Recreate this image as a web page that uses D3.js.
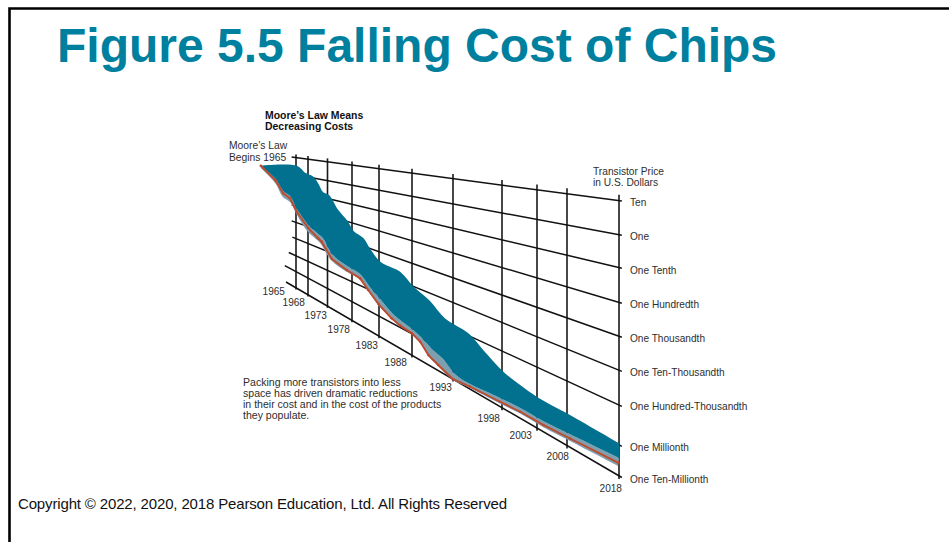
<!DOCTYPE html>
<html><head><meta charset="utf-8"><style>html,body{margin:0;background:#fff}svg{display:block}text{font-family:"Liberation Sans",Arial,sans-serif}</style></head>
<body><svg id="c" width="949" height="542"></svg>
<script src="https://d3js.org/d3.v7.min.js"></script>
<script>
const tickYears=[1965,1968,1973,1978,1983,1988,1993,1998,2003,2008,2018];
const tickLabels=tickYears.map(String);
const priceLabels=["Ten","One","One Tenth","One Hundredth","One Thousandth","One Ten-Thousandth","One Hundred-Thousandth","One Millionth","One Ten-Millionth"];
const priceIndex=[0,1,2,3,4,5,6,7,8];
const lineStartYear=[1963.9,1963.9,1963.9,1963.9,1963.9,1964.1,1963.2,1962.2,1962.5];

// Cost band: decades below "Ten" against year
const upperYears=[1956.0,1965.2,1967.3,1969.4,1970.6,1971.9,1973.3,1975.2,1977.2,1978.3,1980.1,1981.3,1983.2,1986.2,1988.2,1990.2,1992.0,1994.6,1996.1,1998.2,2000.6,2003.0,2007.9,2018.1];
const upperPrice=[0.85,0.47,0.79,0.93,1.25,1.71,1.79,2.51,3.00,3.39,3.59,3.99,4.46,4.58,5.01,5.32,5.75,5.92,6.26,6.64,6.79,6.88,6.90,6.96];
const lowerYears=[1956.2,1959.8,1961.8,1963.5,1965.2,1968.1,1970.6,1971.8,1974.1,1977.0,1979.5,1981.3,1983.2,1985.0,1986.2,1988.0,1989.3,1990.4,1991.7,1993.3,1994.7,1997.8,2000.6,2004.0,2008.6,2018.0];
const lowerPrice=[0.84,1.51,2.21,2.44,3.16,3.90,4.21,4.34,5.07,5.33,5.45,5.86,6.20,6.56,6.68,6.80,6.97,7.20,7.35,7.75,7.79,7.66,7.61,7.61,7.54,7.42];
const trendYears=[1956.2,1959.8,1961.8,1963.5,1965.2,1968.1,1970.6,1971.5,1973.9,1976.9,1979.5,1981.0,1982.9,1984.9,1986.2,1988.0,1989.0,1990.0,1991.2,1993.0,1994.7,1997.8,2000.6,2004.1,2008.6,2017.9];
const trendPrice=[0.84,1.61,2.37,2.59,3.33,4.09,4.46,4.58,5.30,5.54,5.66,6.04,6.46,6.80,6.92,6.98,7.16,7.56,7.75,8.00,7.90,7.81,7.75,7.75,7.69,7.59];
const shadeYears=[1956.2,1959.8,1961.7,1963.5,1965.0,1967.8,1970.6,1971.3,1973.7,1976.8,1979.5,1981.0,1982.8,1985.0,1986.2,1988.0,1989.0,1990.0,1991.2,1993.0,1994.7,1997.8,2000.6,2004.0,2008.6,2017.8];
const shadePrice=[0.99,1.80,2.63,2.84,3.42,4.28,4.62,4.73,5.37,5.63,5.69,6.09,6.51,6.82,6.96,7.01,7.20,7.61,7.80,8.03,7.95,7.88,7.82,7.83,7.78,7.70];

const svg=d3.select("#c");
const xS=d3.scaleLinear().domain(tickYears).range([296,308,327.5,352,379,412,453,502,537,567,619]);
const tS=d3.scaleLinear().domain([292,621]).range([0,1]);
const yLeft=d3.scaleLinear().domain(priceIndex).range([157,174,190,205,221,237,254,269.5,285.5]);
const yRight=d3.scaleLinear().domain(priceIndex).range([201,235,268,303,337,371,406,446,477]);
// Oblique projection: each price line runs from the left wall to the right wall.
const pos=(year,price)=>{const x=xS(year),t=tS(x);return [x,yLeft(price)+t*(yRight(price)-yLeft(price))];};
const zip=(a,b)=>a.map((v,i)=>[v,b[i]]);
const line=d3.line().x(d=>pos(d[0],d[1])[0]).y(d=>pos(d[0],d[1])[1]);
const smooth=d3.line().x(d=>pos(d[0],d[1])[0]).y(d=>pos(d[0],d[1])[1]).curve(d3.curveCatmullRom.alpha(0.5));
const poly=(a,b)=>smooth(a)+"L"+smooth(b.slice().reverse()).slice(1)+"Z";

// frame
svg.append("path").attr("d",d3.line()([[949,8.5],[9.5,8.5],[9.5,542]])).attr("fill","none").attr("stroke","#000").attr("stroke-width",2.6);

// title
svg.append("text").attr("x",57).attr("y",62).attr("font-size",48).attr("font-weight",700).attr("fill","#00809f").text("Figure 5.5 Falling Cost of Chips");

const g=svg.append("g");
// grid
g.selectAll("line.v").data(tickYears).join("line").attr("class","v")
 .attr("x1",d=>pos(d,-0.18)[0]).attr("y1",d=>pos(d,-0.18)[1]).attr("x2",d=>pos(d,8.1)[0]).attr("y2",d=>pos(d,8.1)[1])
 .attr("stroke","#1a1a1a").attr("stroke-width",1.6);
g.selectAll("line.h").data(priceIndex).join("line").attr("class","h")
 .attr("x1",d=>pos(lineStartYear[d],d)[0]).attr("y1",d=>pos(lineStartYear[d],d)[1]).attr("x2",d=>pos(2018.55,d)[0]).attr("y2",d=>pos(2018.55,d)[1])
 .attr("stroke","#111").attr("stroke-width",1.5);

// band
const upper=zip(upperYears,upperPrice),lower=zip(lowerYears,lowerPrice),trend=zip(trendYears,trendPrice),shade=zip(shadeYears,shadePrice);
g.append("path").attr("d",poly(lower,shade)).attr("fill","#7f9fae");
g.append("path").attr("d",poly(upper,lower)).attr("fill","#02708f");
g.append("path").attr("d",line(trend)).attr("fill","none").attr("stroke","#be4a2e").attr("stroke-width",1.9).attr("stroke-linejoin","round");
g.selectAll("circle").data(trend).join("circle").attr("cx",d=>pos(d[0],d[1])[0]).attr("cy",d=>pos(d[0],d[1])[1]).attr("r",1.3).attr("fill","#be4a2e");

// labels
const ink="#2e2e2e",fs=10.1;
const txt=(x,y,s,o={})=>svg.append("text").attr("x",x).attr("y",y).attr("font-size",o.size||fs).attr("font-weight",o.weight||400).attr("fill",o.fill||ink).attr("text-anchor",o.anchor||"start").text(s);
txt(265,119,"Moore’s Law Means",{weight:700,fill:"#111",size:10.45});
txt(265,130,"Decreasing Costs",{weight:700,fill:"#111",size:10.45});
txt(229,149,"Moore’s Law",{size:10.3});
txt(229,160.5,"Begins 1965",{size:10.3});
txt(593,174.5,"Transistor Price",{size:10.2});
txt(593,185.5,"in U.S. Dollars",{size:10.2});
const yearLabelShift=[-11,-3,-0.5,-2,-1,-5,-1,-2,-5,2,3];
const yearLabelY=[295,306,318.5,332.5,348.5,366,391,421.5,438.5,460,491.5];
tickLabels.forEach((s,i)=>txt(xS(tickYears[i])+yearLabelShift[i],yearLabelY[i],s,{anchor:"end"}));
const priceLabelY=[205.7,239.7,273.7,307.7,341.7,375.7,409.7,450.7,482.7];
priceLabels.forEach((s,i)=>txt(630,priceLabelY[i],s));
["Packing more transistors into less","space has driven dramatic reductions","in their cost and in the cost of the products","they populate."]
 .forEach((s,i)=>txt(243,385.5+i*11.3,s,{size:10.55}));
svg.append("text").attr("x",18).attr("y",509).attr("font-size",15).attr("letter-spacing",-0.15).attr("fill","#111").text("Copyright © 2022, 2020, 2018 Pearson Education, Ltd. All Rights Reserved");
</script></body></html>
